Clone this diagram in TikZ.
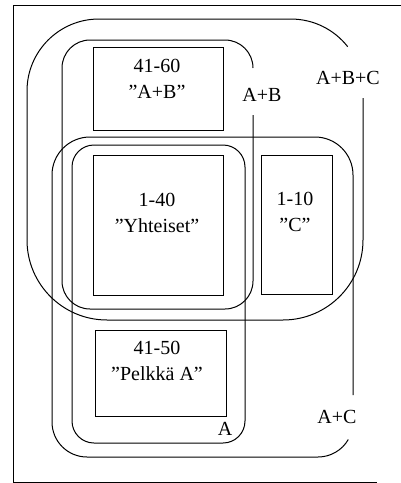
\documentclass[tikz,border=0pt]{standalone}
\usepackage{fontspec}
\setmainfont{Liberation Serif}
\begin{document}
\begin{tikzpicture}[x=1pt,y=-1pt,
  ln/.style={line width=1pt},
  box/.style={draw, line width=1pt, rectangle, inner sep=0pt},
  txt/.style={font=\fontsize{20}{26}\selectfont, align=center, inner sep=0pt},
]
\useasboundingbox (0,0) rectangle (401,483);
% frame
\draw[ln] (401,5) -- (13,5) -- (13,482) -- (377,482);
% A+B+C
\draw[ln] (347.7,46.7) arc[start angle=-38,end angle=-90,radius=72] -- (99,19)
  arc[start angle=-90,end angle=-180,radius=72] -- (27,240)
  arc[start angle=180,end angle=90,radius=80] -- (283,320)
  arc[start angle=90,end angle=0,radius=80] -- (363,98);
% A+B
\draw[ln] (253,68) arc[start angle=0,end angle=-90,radius=28] -- (90,40)
  arc[start angle=-90,end angle=-180,radius=28] -- (62,281)
  arc[start angle=180,end angle=90,radius=28] -- (225,309)
  arc[start angle=90,end angle=0,radius=28] -- (253,115);
% A
\draw[ln, rounded corners=22pt] (72,145) rectangle (245,443);
% A+C
\draw[ln] (348.3,439.5) arc[start angle=30,end angle=90,radius=35] -- (87,457)
  arc[start angle=90,end angle=180,radius=35] -- (52,175)
  arc[start angle=180,end angle=270,radius=38] -- (315,137)
  arc[start angle=270,end angle=360,radius=38] -- (353,395);
% boxes
\node[box, minimum width=130pt, minimum height=83pt] (b4160) at (158,88.5) {};
\node[box, minimum width=130pt, minimum height=140pt] (b140) at (158,225) {};
\node[box, minimum width=71pt, minimum height=139pt] (b110) at (296.5,224.5) {};
\node[box, minimum width=131pt, minimum height=86pt] (b4150) at (160.5,373) {};
% box texts
\node[txt] (t4160) at (157,79) {41-60\\”A+B”};
\node[txt] (t140) at (157,213) {1-40\\”Yhteiset”};
\node[txt] (t110) at (295,212) {1-10\\”C”};
\node[txt] (t4150) at (157,360.5) {41-50\\”Pelkkä A”};
% set labels
\node[txt] (lABC) at (348,78) {A+B+C};
\node[txt] (lAB) at (262,95) {A+B};
\node[txt] (lA) at (225,429) {A};
\node[txt] (lAC) at (337,417) {A+C};
\end{tikzpicture}
\end{document}
